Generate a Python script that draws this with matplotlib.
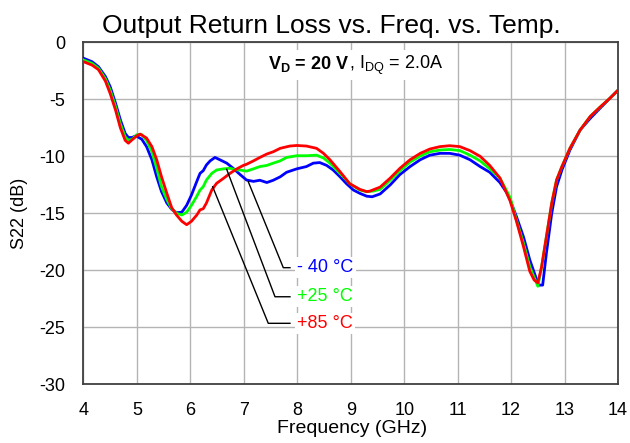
import matplotlib
matplotlib.use("Agg")
import matplotlib.pyplot as plt
from matplotlib.patches import Rectangle
from matplotlib.transforms import IdentityTransform

plt.rcParams['font.family'] = ['Liberation Sans', 'DejaVu Sans']
plt.rcParams['mathtext.fontset'] = 'custom'
plt.rcParams['mathtext.rm'] = 'Liberation Sans'
plt.rcParams['mathtext.bf'] = 'Liberation Sans:bold'
plt.rcParams['axes.unicode_minus'] = False

# Data
blue_f = [4.0, 4.16, 4.28, 4.41, 4.50, 4.60, 4.69, 4.78, 4.84, 4.91, 4.98, 5.09, 5.18, 5.28,
          5.37, 5.46, 5.56, 5.65, 5.74, 5.84, 5.93, 6.02, 6.12, 6.18, 6.24, 6.30, 6.37, 6.46,
          6.55, 6.68, 6.80, 6.93, 7.05, 7.18, 7.30, 7.43, 7.55, 7.68, 7.80, 7.99, 8.17, 8.30,
          8.42, 8.55, 8.67, 8.80, 8.92, 9.05, 9.17, 9.30, 9.40, 9.55, 9.74, 9.92, 10.11, 10.30,
          10.48, 10.67, 10.85, 11.04, 11.23, 11.42, 11.60, 11.79, 11.92, 11.98, 12.10, 12.23,
          12.35, 12.48, 12.53, 12.59, 12.66, 12.76, 12.85, 12.95, 13.10, 13.29, 13.48, 13.66,
          13.85, 14.0]
blue_s = [-1.4, -1.7, -2.14, -3.0, -3.9, -5.35, -6.8, -8.0, -8.35, -8.35, -8.2, -8.5, -9.15, -10.3,
          -11.8, -13.1, -14.1, -14.65, -14.95, -14.9, -14.3, -13.4, -12.2, -11.5, -11.26, -10.76,
          -10.4, -10.1, -10.3, -10.6, -11.05, -11.6, -12.08, -12.2, -12.1, -12.3, -12.1, -11.8,
          -11.4, -11.1, -10.9, -10.6, -10.55, -10.8, -11.2, -11.8, -12.4, -12.96, -13.25, -13.5,
          -13.55, -13.3, -12.5, -11.6, -10.9, -10.3, -9.9, -9.74, -9.74, -9.9, -10.3, -10.9,
          -11.4, -12.3, -13.2, -13.8, -15.3, -17.05, -19.1, -20.85, -21.3, -21.3, -18.5, -15.0,
          -12.67, -11.2, -9.45, -7.7, -6.67, -5.8, -4.9, -4.2]

green_f = [4.0, 4.16, 4.28, 4.41, 4.50, 4.60, 4.69, 4.78, 4.84, 4.91, 5.0, 5.09, 5.18, 5.28,
           5.37, 5.46, 5.56, 5.65, 5.74, 5.84, 5.93, 6.02, 6.12, 6.18, 6.24, 6.30, 6.40, 6.49,
           6.62, 6.74, 6.87, 6.93, 7.05, 7.18, 7.30, 7.43, 7.55, 7.68, 7.80, 7.99, 8.17, 8.36,
           8.49, 8.61, 8.80, 8.98, 9.17, 9.30, 9.42, 9.55, 9.74, 9.92, 10.11, 10.30, 10.48,
           10.67, 10.85, 11.04, 11.23, 11.42, 11.60, 11.79, 11.98, 12.10, 12.23, 12.35, 12.50,
           12.57, 12.66, 12.76, 12.85, 12.95, 13.10, 13.29, 13.48, 13.66, 13.85, 14.0]
green_s = [-1.55, -1.85, -2.27, -3.2, -4.2, -5.65, -7.15, -8.3, -8.6, -8.5, -8.1, -8.1, -8.6, -9.6,
           -11.05, -12.67, -13.8, -14.6, -15.0, -15.15, -14.9, -14.3, -13.5, -12.96, -12.67,
           -12.08, -11.5, -11.2, -11.1, -11.05, -11.2, -11.2, -11.3, -11.1, -10.9, -10.8, -10.6,
           -10.4, -10.1, -9.95, -9.95, -9.9, -10.15, -10.6, -11.5, -12.4, -12.96, -13.1, -13.05,
           -12.9, -12.08, -11.26, -10.5, -9.97, -9.6, -9.45, -9.4, -9.5, -9.9, -10.4, -11.1,
           -11.9, -13.6, -15.6, -17.6, -19.7, -21.4, -19.7, -17.05, -14.1, -12.08, -10.9, -9.3,
           -7.7, -6.5, -5.7, -4.9, -4.2]

red_f = [4.0, 4.16, 4.28, 4.41, 4.50, 4.60, 4.69, 4.78, 4.84, 4.91, 5.0, 5.06, 5.18, 5.28,
         5.37, 5.46, 5.56, 5.65, 5.74, 5.84, 5.93, 6.02, 6.12, 6.18, 6.24, 6.30, 6.40, 6.49,
         6.62, 6.74, 6.87, 6.99, 7.05, 7.18, 7.30, 7.43, 7.55, 7.68, 7.86, 7.99, 8.17, 8.36,
         8.49, 8.61, 8.80, 8.98, 9.17, 9.30, 9.36, 9.55, 9.74, 9.92, 10.11, 10.30, 10.48,
         10.67, 10.85, 11.04, 11.23, 11.42, 11.60, 11.79, 11.98, 12.10, 12.23, 12.35, 12.43,
         12.50, 12.57, 12.66, 12.76, 12.85, 12.95, 13.10, 13.29, 13.48, 13.66, 13.85, 14.0]
red_s = [-1.7, -2.0, -2.4, -3.4, -4.5, -5.95, -7.5, -8.6, -8.85, -8.55, -8.2, -8.05, -8.4, -9.15,
         -10.3, -11.8, -13.25, -14.5, -15.15, -15.7, -16.0, -15.7, -15.15, -14.7, -14.6, -14.1,
         -12.96, -12.37, -11.93, -11.5, -11.1, -10.8, -10.7, -10.4, -10.1, -9.8, -9.6, -9.3,
         -9.1, -9.05, -9.1, -9.3, -9.74, -10.3, -11.35, -12.4, -12.9, -13.1, -13.05, -12.7,
         -11.9, -11.05, -10.3, -9.74, -9.36, -9.15, -9.07, -9.15, -9.5, -10.0, -10.8, -11.9,
         -13.9, -15.7, -17.9, -20.1, -20.85, -21.1, -19.7, -17.05, -14.1, -12.08, -10.9, -9.3,
         -7.7, -6.5, -5.7, -4.9, -4.2]

labels = ["- 40 °C", "+25 °C", "+85 °C"]
colors = ["#0000FF", "#00FF00", "#FF0000"]
xticks = list(range(4, 15))
yticks = [0, -5, -10, -15, -20, -25, -30]

fig = plt.figure(figsize=(6.3, 4.43), dpi=100)
ax = fig.add_axes([0.1325, 0.1325, 0.8485, 0.772])

for f, s, c in zip([blue_f, green_f, red_f], [blue_s, green_s, red_s], colors):
    ax.plot(f, s, color=c, lw=2.0, zorder=3, solid_joinstyle='round')

ax.set_xlim(4, 14)
ax.set_ylim(-30, 0)
ax.set_xticks(xticks)
ax.set_yticks(yticks)
ax.grid(True, color='#b4b4b4', lw=1.0)
ax.set_axisbelow(True)
ax.tick_params(length=0, labelsize=13, pad=13)
for sp in ax.spines.values():
    sp.set_color('#404040')
    sp.set_linewidth(1.3)

fig.text(331 / 630, 1 - 33.5 / 443, "Output Return Loss vs. Freq. vs. Temp.", fontsize=19,
         ha='center', va='baseline')
fig.text(352 / 630, 1 - 433 / 443, "Frequency (GHz)", fontsize=14, ha='center', va='baseline')
ax.set_ylabel("S22 (dB)", fontsize=13, labelpad=8)

# leader lines
leaders = [
    ([7.083, 7.738, 7.863], [-12.23, -19.77, -19.77]),
    ([6.679, 7.583, 7.863], [-11.14, -22.32, -22.32]),
    ([6.417, 7.457, 7.863], [-12.67, -24.65, -24.65]),
]
for (lx, ly) in leaders:
    ax.plot(lx, ly, color='black', lw=1.0, zorder=4)

for (lx, ly), lab, c in zip(leaders, labels, colors):
    ax.text(lx[-1] + 0.14, ly[-1], lab, color=c, fontsize=13, va='center', ha='left',
            zorder=5, bbox=dict(facecolor='white', edgecolor='none', pad=1.5))

# condition text: bold part + normal part, baselines aligned
t1 = ax.text(7.45, -2.3, r"$\mathbf{V_D}$ = 20 V", fontsize=13, fontweight='bold',
             ha='left', va='baseline', zorder=6)
fig.canvas.draw()
r = fig.canvas.get_renderer()
e1 = t1.get_window_extent(r)
base_disp = ax.transData.transform((7.45, -2.3))
x2_data = ax.transData.inverted().transform((e1.x1, base_disp[1]))[0]
t2 = ax.text(x2_data, -2.3, r", $\mathrm{I_{DQ}}$ = 2.0A", fontsize=13,
             ha='left', va='baseline', zorder=6)
fig.canvas.draw()
e2 = t2.get_window_extent(r)
x0, x1 = e1.x0 - 4, e2.x1 + 4
y0, y1 = min(e1.y0, e2.y0) - 3, max(e1.y1, e2.y1) + 3
ax.add_patch(Rectangle((x0, y0), x1 - x0, y1 - y0, transform=IdentityTransform(),
                       facecolor='white', edgecolor='none', zorder=5))

fig.savefig("out.png", dpi=100)
